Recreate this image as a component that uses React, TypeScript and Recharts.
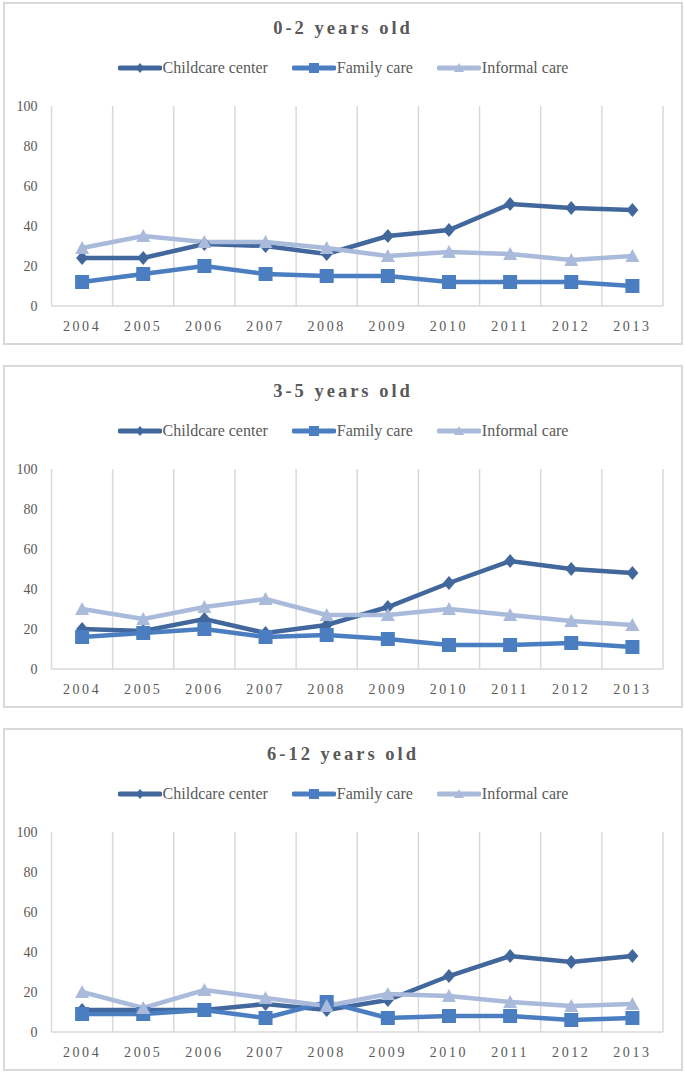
import React from "react";
import { LineChart, Line, XAxis, YAxis, CartesianGrid } from "recharts";

const years = ["2004", "2005", "2006", "2007", "2008", "2009", "2010", "2011", "2012", "2013"];
const yTicks = [0, 20, 40, 60, 80, 100];
const titles = ["0-2 years old", "3-5 years old", "6-12 years old"];
const seriesNames = ["Childcare center", "Family care", "Informal care"];

// 0-2 years old
const center02 = [24, 24, 31, 30, 26, 35, 38, 51, 49, 48];
const family02 = [12, 16, 20, 16, 15, 15, 12, 12, 12, 10];
const informal02 = [29, 35, 32, 32, 29, 25, 27, 26, 23, 25];

// 3-5 years old
const center35 = [20, 19, 25, 18, 22, 31, 43, 54, 50, 48];
const family35 = [16, 18, 20, 16, 17, 15, 12, 12, 13, 11];
const informal35 = [30, 25, 31, 35, 27, 27, 30, 27, 24, 22];

// 6-12 years old
const center612 = [11, 11, 11, 14, 11, 16, 28, 38, 35, 38];
const family612 = [9, 9, 11, 7, 15, 7, 8, 8, 6, 7];
const informal612 = [20, 12, 21, 17, 13, 19, 18, 15, 13, 14];

const COLORS = ["#41679C", "#4A7EC0", "#A9BADB"];
const TEXT = "#595959";
const GRID = "#D9D9D9";
const FONT = "'Liberation Serif', 'Times New Roman', serif";

const PANEL_W = 680;
const PANEL_H = 343;
const PANEL_GAP = 363;

const buildRows = (a: number[], b: number[], c: number[]) =>
  years.map((year, i) => ({ year, center: a[i], family: b[i], informal: c[i] }));

const panels = [
  buildRows(center02, family02, informal02),
  buildRows(center35, family35, informal35),
  buildRows(center612, family612, informal612),
];

const Diamond = (props: any) => {
  const { cx, cy, fill } = props;
  if (cx == null || cy == null) return <g key={props.key} />;
  return <path key={props.key} d={`M${cx},${cy - 7}L${cx + 6},${cy}L${cx},${cy + 7}L${cx - 6},${cy}Z`} fill={fill} />;
};

const Square = (props: any) => {
  const { cx, cy, fill } = props;
  if (cx == null || cy == null) return <g key={props.key} />;
  return <rect key={props.key} x={cx - 7} y={cy - 7} width={14} height={14} fill={fill} />;
};

const Triangle = (props: any) => {
  const { cx, cy, fill } = props;
  if (cx == null || cy == null) return <g key={props.key} />;
  return <path key={props.key} d={`M${cx},${cy - 7}L${cx + 7},${cy + 6}L${cx - 7},${cy + 6}Z`} fill={fill} />;
};

const LegendIcon = ({ idx }: { idx: number }) => {
  const color = COLORS[idx];
  return (
    <svg width={44} height={14} style={{ display: "block" }}>
      <line x1={2} y1={7} x2={42} y2={7} stroke={color} strokeWidth={5} strokeLinecap="round" />
      {idx === 0 && <path d="M22,2L26,7L22,12L18,7Z" fill={color} />}
      {idx === 1 && <rect x={17} y={2} width={10} height={10} fill={color} />}
      {idx === 2 && <path d="M22,2L27,11L17,11Z" fill={color} />}
    </svg>
  );
};

const Panel = ({ title, rows, top }: { title: string; rows: any[]; top: number }) => (
  <div
    style={{
      position: "absolute",
      left: 3,
      top,
      width: PANEL_W,
      height: PANEL_H,
      boxSizing: "border-box",
      border: `2px solid ${GRID}`,
      background: "#fff",
    }}
  >
    <div
      style={{
        position: "absolute",
        left: 0,
        top: 14,
        width: "100%",
        textAlign: "center",
        fontFamily: FONT,
        fontWeight: "bold",
        fontSize: 18.5,
        lineHeight: "20px",
        letterSpacing: 3,
        color: TEXT,
      }}
    >
      {title}
    </div>
    <div
      style={{
        position: "absolute",
        left: 0,
        top: 55,
        width: "100%",
        display: "flex",
        justifyContent: "center",
        alignItems: "center",
        fontFamily: FONT,
        fontSize: 16,
        color: TEXT,
      }}
    >
      {seriesNames.map((name, i) => (
        <div key={name} style={{ display: "flex", alignItems: "center", marginRight: i < 2 ? 24 : 0 }}>
          <LegendIcon idx={i} />
          <span style={{ marginLeft: 1 }}>{name}</span>
        </div>
      ))}
    </div>
    <div style={{ position: "absolute", left: 0, top: 0 }}>
      <LineChart
        width={PANEL_W - 4}
        height={PANEL_H - 4}
        data={rows}
        margin={{ top: 102, right: 18, bottom: 7, left: 0 }}
      >
        <CartesianGrid
          horizontal={false}
          stroke={GRID}
          strokeWidth={1.5}
          verticalCoordinatesGenerator={({ offset }: any) =>
            Array.from({ length: years.length + 1 }, (_, i) => offset.left + (i * offset.width) / years.length)
          }
        />
        <XAxis
          dataKey="year"
          padding={{ left: 30.6, right: 30.6 }}
          tickLine={false}
          tickSize={0}
          tickMargin={15}
          height={30}
          axisLine={{ stroke: GRID, strokeWidth: 1.5 }}
          tick={{ fill: TEXT, fontSize: 14, fontFamily: FONT, letterSpacing: 2.6 }}
          interval={0}
        />
        <YAxis
          domain={[0, 100]}
          ticks={yTicks}
          width={46.5}
          axisLine={false}
          tickLine={false}
          tickSize={0}
          tickMargin={14}
          tick={{ fill: TEXT, fontSize: 14, fontFamily: FONT }}
        />
        <Line
          dataKey="center"
          stroke={COLORS[0]}
          strokeWidth={4.5}
          dot={<Diamond fill={COLORS[0]} />}
          activeDot={false}
          isAnimationActive={false}
        />
        <Line
          dataKey="family"
          stroke={COLORS[1]}
          strokeWidth={4.5}
          dot={<Square fill={COLORS[1]} />}
          activeDot={false}
          isAnimationActive={false}
        />
        <Line
          dataKey="informal"
          stroke={COLORS[2]}
          strokeWidth={4.5}
          dot={<Triangle fill={COLORS[2]} />}
          activeDot={false}
          isAnimationActive={false}
        />
      </LineChart>
    </div>
  </div>
);

export default function App() {
  return (
    <div style={{ position: "absolute", left: 0, top: 0, width: 685, height: 1075, background: "#fff" }}>
      {panels.map((rows, i) => (
        <Panel key={titles[i]} title={titles[i]} rows={rows} top={2 + i * PANEL_GAP} />
      ))}
    </div>
  );
}
